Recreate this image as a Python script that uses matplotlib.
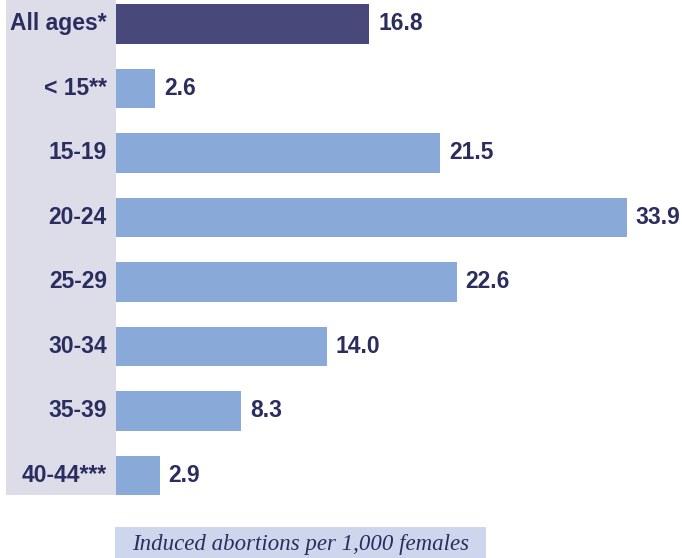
import matplotlib
matplotlib.use("Agg")
import matplotlib.pyplot as plt
from matplotlib.patches import Rectangle

categories = ["All ages*", "< 15**", "15-19", "20-24", "25-29", "30-34", "35-39", "40-44***"]
rates = [16.8, 2.6, 21.5, 33.9, 22.6, 14.0, 8.3, 2.9]
value_labels = ["16.8", "2.6", "21.5", "33.9", "22.6", "14.0", "8.3", "2.9"]
caption = "Induced abortions per 1,000 females"

W, H = 682, 558
DPI = 100
text_color = "#2b2d5e"
dark_bar = "#48487a"
light_bar = "#89a9d8"
panel_color = "#dddde9"
caption_bg = "#cdd6ec"
label_font = ["Liberation Sans Narrow", "Liberation Sans", "DejaVu Sans"]

fig = plt.figure(figsize=(W / DPI, H / DPI), dpi=DPI)

def px_rect(x0, y0, x1, y1):
    return [x0 / W, 1 - y1 / H, (x1 - x0) / W, (y1 - y0) / H]

# lavender label panel behind the category names
bg = fig.add_axes(px_rect(6, 0, 116, 495), zorder=-1)
bg.set_facecolor(panel_color)
bg.set_xticks([])
bg.set_yticks([])
for s in bg.spines.values():
    s.set_visible(False)

ax = fig.add_axes(px_rect(116, 0, W, 495), zorder=1)
ax.set_facecolor("none")
positions = list(range(len(categories)))
colors = [dark_bar] + [light_bar] * (len(categories) - 1)
ax.barh(positions, rates, height=0.61, color=colors, left=0)
ax.set_xlim(0, (W - 116) / 15.07)
ax.set_ylim(len(categories) - 1 + 0.305, -0.37)
ax.axis("off")

for y, v, lab, cat in zip(positions, rates, value_labels, categories):
    ax.annotate(lab, (v, y), xytext=(9, 0), textcoords="offset pixels",
                ha="left", va="center", fontsize=16.5, fontweight="bold",
                color=text_color, family=label_font)
    ax.annotate(cat, (0, y), xytext=(-9, 0), textcoords="offset pixels",
                ha="right", va="center", fontsize=16.5, fontweight="bold",
                color=text_color, family=label_font, annotation_clip=False)

# caption box
cax = fig.add_axes(px_rect(115, 527, 486, 558))
cax.set_xlim(0, 1)
cax.set_ylim(0, 1)
cax.axis("off")
cax.add_patch(Rectangle((0, 0), 1, 1, facecolor=caption_bg, edgecolor="none"))
cax.text(0.5, 0.45, caption, ha="center", va="center", fontsize=16.5,
         style="italic", color=text_color,
         family=["Liberation Serif", "DejaVu Serif"])

fig.savefig("out.png", dpi=DPI)
